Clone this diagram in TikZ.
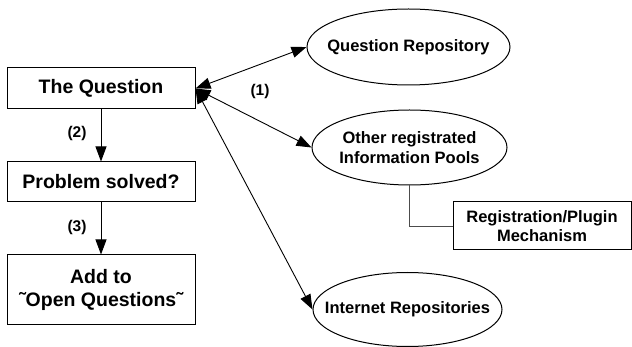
\documentclass[tikz,border=0pt]{standalone}
\usepackage{fontspec}
\setmainfont{Liberation Sans}
\usetikzlibrary{shapes.geometric,arrows.meta}

\tikzset{
	stepbox/.style={draw, rectangle, line width=1pt, inner sep=0pt, minimum width=188pt,
		align=center, font=\fontsize{19.5}{23}\selectfont\bfseries},
	pool/.style={draw, ellipse, line width=1pt, inner sep=-40pt, align=center,
		font=\fontsize{16.5}{19.5}\selectfont\bfseries},
	steplabel/.style={font=\fontsize{15.5}{18}\selectfont\bfseries},
	link/.style={line width=0.9pt, -{Triangle[length=15pt, width=11pt]}},
	duplex/.style={line width=0.9pt, {Triangle[length=15pt, width=11pt]}-{Triangle[length=15pt, width=11pt]}}
}

\begin{document}
\begin{tikzpicture}[x=1pt, y=-1pt]
			\useasboundingbox (0,0) rectangle (632,347);

			% Define nodes
			\node[stepbox, minimum height=41pt] (question) at (101,88.5) {The Question};
			\node[stepbox, minimum height=40pt] (solved) at (101,182) {Problem solved?};
			\node[stepbox, minimum height=70pt] (addopen) at (101,290) {Add to\\˜Open Questions˜};

			\node[pool, minimum width=203pt, minimum height=76pt] (questrepo) at (408.5,47) {Question Repository};
			\node[pool, minimum width=195pt, minimum height=75pt] (otherpools) at (409.5,147.5) {Other registrated\\Information Pools};
			\node[pool, minimum width=189pt, minimum height=74pt] (netrepo) at (407.5,309.5) {Internet Repositories};

			\node[stepbox, minimum width=178pt, minimum height=48pt, font=\fontsize{16.5}{19.5}\selectfont\bfseries] (plugin) at (542,226) {Registration/Plugin\\Mechanism};

			\node[steplabel] (l1) at (260,91) {(1)};
			\node[steplabel] (l2) at (77,133) {(2)};
			\node[steplabel] (l3) at (77,227) {(3)};

			% Draw the steps
			\draw[link] (question) -- (solved);
			\draw[link] (solved) -- (addopen);

			% Draw the lookups
			\draw[duplex] (question.east) -- (questrepo.west);
			\draw[duplex] (question.east) -- (otherpools.west);
			\draw[duplex] (question.east) -- (netrepo.west);

			\draw[line width=0.9pt, black!70] (otherpools.south) |- (plugin.west);

		\end{tikzpicture}
\end{document}
